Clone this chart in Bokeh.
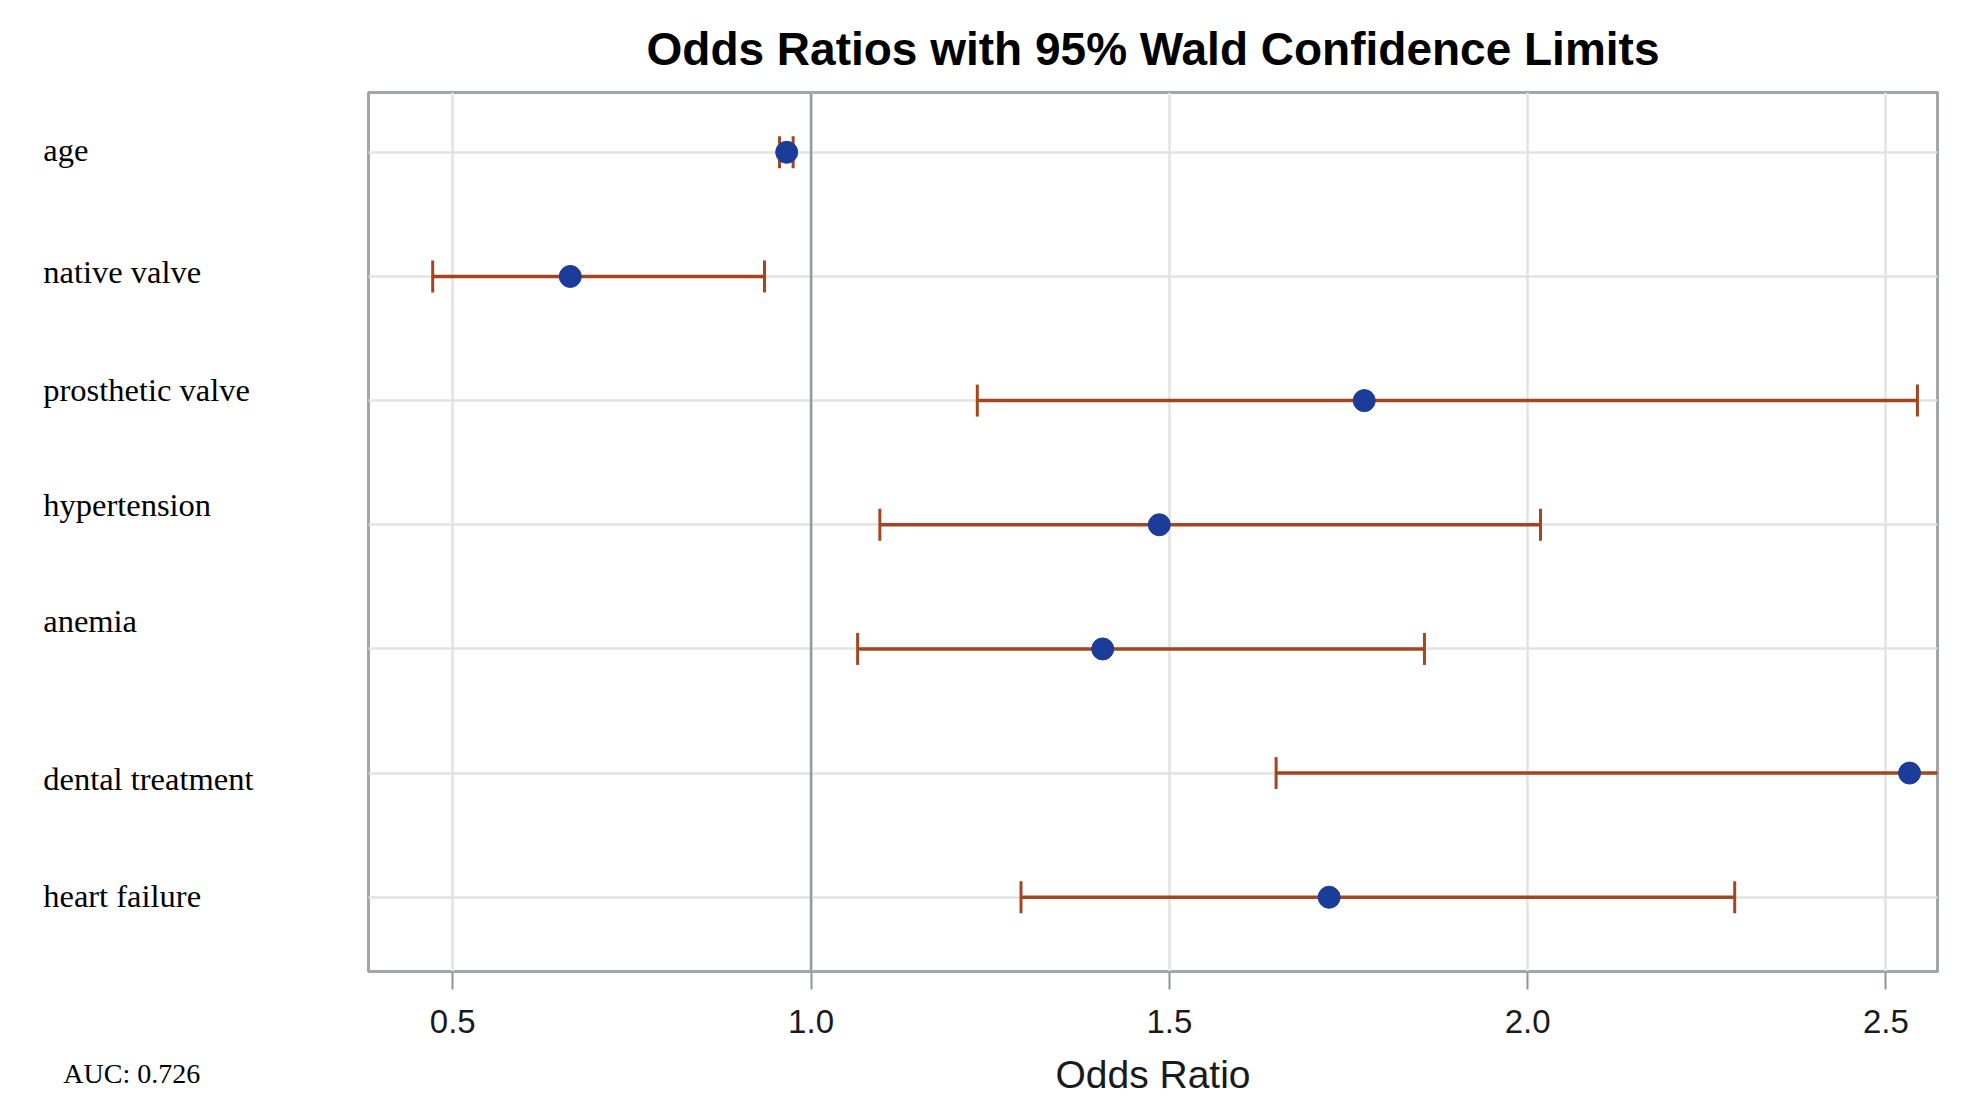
import math
from bokeh.plotting import figure
from bokeh.models import Range1d, FixedTicker, Span, PrintfTickFormatter, Title
from bokeh.layouts import row
from bokeh.core.properties import value
from bokeh.embed import file_html
from bokeh.resources import INLINE

# ---- data ----
categories = ["age", "native valve", "prosthetic valve", "hypertension",
              "anemia", "dental treatment", "heart failure"]
odds_ratio = [0.966, 0.664, 1.772, 1.486, 1.407, 2.533, 1.723]
lower_cl = [0.956, 0.472, 1.232, 1.096, 1.065, 1.649, 1.293]
upper_cl = [0.975, 0.935, 2.544, 2.018, 1.856, 3.800, 2.289]
x_ticks = [0.5, 1.0, 1.5, 2.0, 2.5]
title_text = "Odds Ratios with 95% Wald Confidence Limits"
x_label = "Odds Ratio"
auc_text = "AUC: 0.726"

# ---- layout constants ----
H = 1098
LEFT_W = 358
MAIN_W = 1602
B_TOP, B_BOT = 92, 122
Y0, Y1 = -0.598, 6.4815
X0, X1 = 0.3824, 2.572
label_baseline_offsets_px = [-1.9, -4.6, -11.0, -19.9, -27.8, 6.1, -1.6]

ERR = "#a3461f"
DOT = "#1b3c98"
GRID = "#e3e3e3"
FRAME = "#a2a6aa"

ypos = list(range(len(categories) - 1, -1, -1))
yr = Range1d(Y0, Y1)

p = figure(width=MAIN_W, height=H, x_range=Range1d(X0, X1), y_range=yr,
           output_backend="svg", toolbar_location=None, y_axis_location=None,
           min_border_left=10, min_border_right=23, min_border_top=B_TOP,
           min_border_bottom=B_BOT)
p.title.text = title_text
p.title.align = "center"
p.title.text_font = "Liberation Sans"
p.title.text_font_style = "bold"
p.title.text_font_size = "46px"
p.title.text_color = "black"
p.title.standoff = 35

p.outline_line_color = FRAME
p.outline_line_width = 3

ax = p.xaxis[0]
ax.ticker = FixedTicker(ticks=x_ticks)
ax.formatter = PrintfTickFormatter(format="%.1f")
ax.axis_line_color = None
ax.major_tick_line_color = "#8f959a"
ax.major_tick_line_width = 2
ax.major_tick_out = 18
ax.major_tick_in = 0
ax.minor_tick_line_color = None
ax.major_label_text_font = "Liberation Sans"
ax.major_label_text_font_size = "33px"
ax.major_label_text_color = "#1a1a1a"
ax.major_label_standoff = 20
ax.axis_label = x_label
ax.axis_label_text_font = "Liberation Sans"
ax.axis_label_text_font_size = "39px"
ax.axis_label_text_font_style = "normal"
ax.axis_label_text_color = "#1a1a1a"
ax.axis_label_standoff = 17

p.xgrid.ticker = FixedTicker(ticks=x_ticks)
p.ygrid.ticker = FixedTicker(ticks=ypos)
p.grid.grid_line_color = GRID
p.grid.grid_line_width = 2.5

p.add_layout(Span(location=1.0, dimension="height", line_color="#959a9e", line_width=2.5))

p.segment(x0=lower_cl, y0=ypos, x1=upper_cl, y1=ypos, line_color=ERR, line_width=3.5)
p.scatter(x=lower_cl, y=ypos, marker="dash", angle=math.pi / 2, size=32,
          line_color=ERR, line_width=3)
p.scatter(x=upper_cl, y=ypos, marker="dash", angle=math.pi / 2, size=32,
          line_color=ERR, line_width=3)
p.scatter(x=odds_ratio, y=ypos, size=22, fill_color=DOT, line_color=DOT)

# ---- left panel with category names (frame aligned with main plot) ----
frame_h = H - B_TOP - B_BOT
ppu = frame_h / (Y1 - Y0)

lf = figure(width=LEFT_W, height=H, x_range=Range1d(0, LEFT_W), y_range=yr,
            output_backend="svg", toolbar_location=None, x_axis_location=None,
            y_axis_location=None, min_border_left=0, min_border_right=0,
            min_border_top=B_TOP, min_border_bottom=B_BOT)
lf.grid.visible = False
lf.outline_line_color = None
label_y = [yy - off / ppu for yy, off in zip(ypos, label_baseline_offsets_px)]
lf.text(x=[42.7] * len(categories), y=label_y, text=categories,
        text_font=value("Liberation Serif"), text_font_size="32.5px",
        text_baseline="alphabetic", text_align="left", text_color="black")

# invisible spacer, then the AUC note under it
spacer = Title(text=".", text_color="white", text_font_size="10px", standoff=74)
lf.add_layout(spacer, "below")
auc = Title(text=auc_text, align="left", offset=62.8, standoff=0,
            text_font="Liberation Serif", text_font_size="28px",
            text_font_style="normal", text_color="black")
lf.add_layout(auc, "below")

layout = row(lf, p)
open("out.html", "w").write(file_html(layout, INLINE))
